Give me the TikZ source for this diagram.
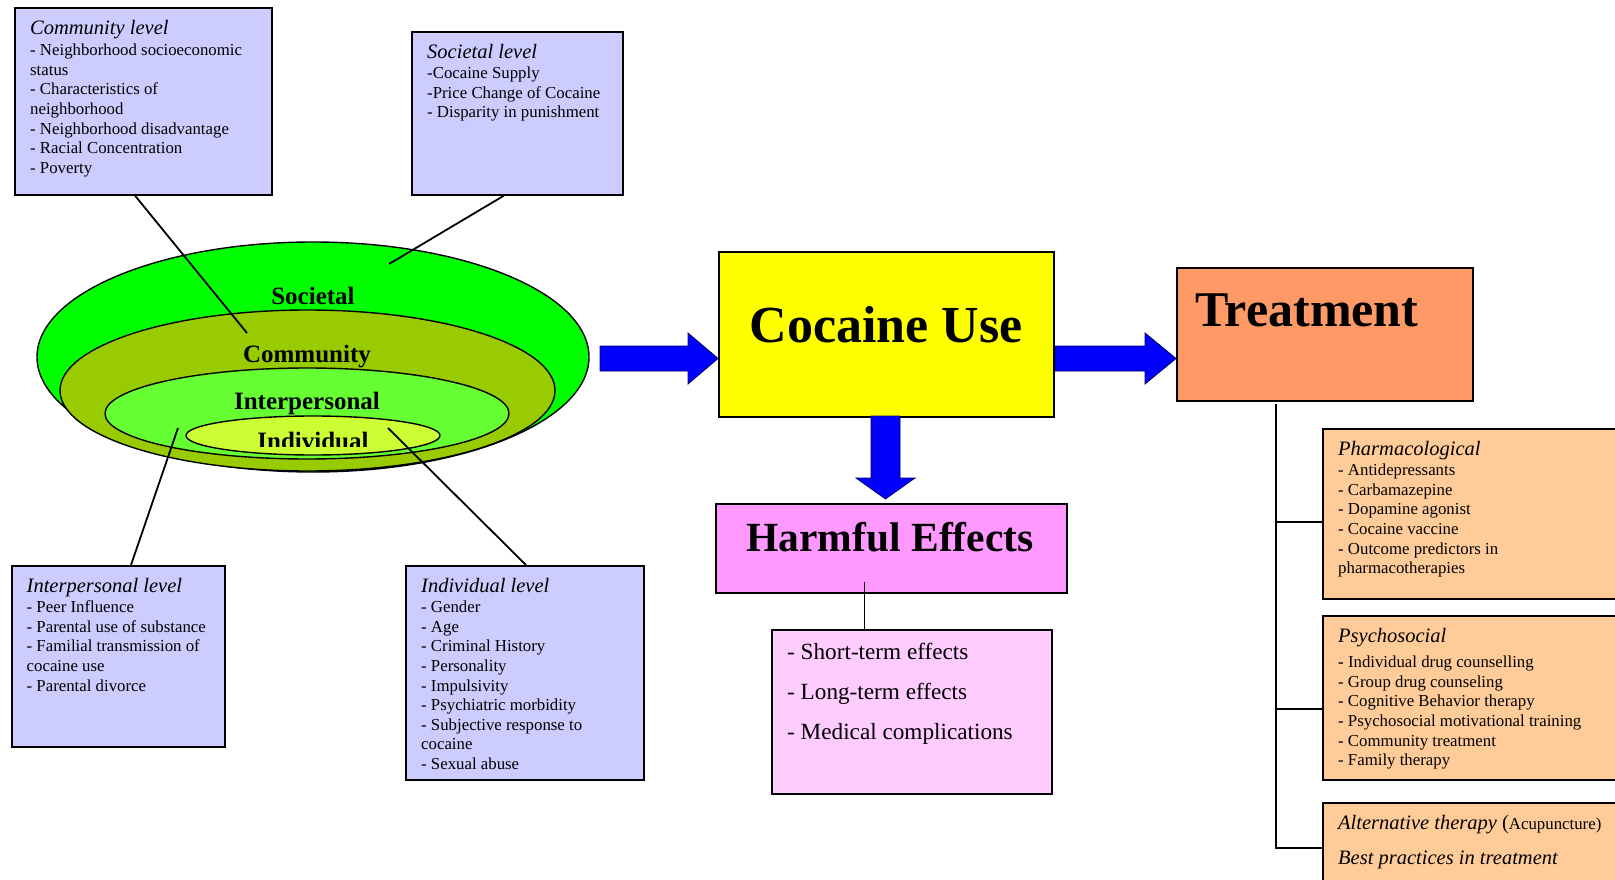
\documentclass[tikz,border=0pt]{standalone}
\usepackage{fontspec}
\setmainfont{Liberation Serif}
\usetikzlibrary{shapes.geometric}
\definecolor{lav}{HTML}{CCCCFF}
\definecolor{socg}{HTML}{00FF00}
\definecolor{comg}{HTML}{99CC00}
\definecolor{intg}{HTML}{66FF33}
\definecolor{indg}{HTML}{CCFF33}
\definecolor{cocc}{HTML}{FFFF00}
\definecolor{treatc}{HTML}{FF9966}
\definecolor{harmc}{HTML}{FF99FF}
\definecolor{shortc}{HTML}{FFCCFF}
\definecolor{therc}{HTML}{FFCC99}
\definecolor{arrc}{HTML}{0000FF}
\newcommand{\fl}{\rule{0pt}{14pt}}
\newcommand{\flbig}{\rule{0pt}{20pt}}
\tikzset{
  boxbase/.style={draw, line width=1.6pt, anchor=north west, inner sep=0pt},
  lvlbox/.style={boxbase, fill=lav},
  thbox/.style={boxbase, fill=therc},
  ell/.style={ellipse, draw, line width=1.4pt, inner sep=0pt},
  ttl/.style={anchor=base west, inner sep=0pt, font=\fontsize{20.5}{22}\selectfont\itshape},
  body/.style={anchor=north west, inner sep=0pt, align=left, font=\fontsize{16.8}{19.6}\selectfont},
  ringlbl/.style={anchor=base, inner sep=0pt, font=\fontsize{25}{27}\selectfont\bfseries},
  biglbl/.style={inner sep=0pt, font=\bfseries},
  conn/.style={line width=1.8pt},
  tree/.style={line width=1.4pt},
  blockarrow/.style={fill=arrc, draw=black!60!blue, line width=0.8pt, line join=miter},
}
\begin{document}
\begin{tikzpicture}[x=1pt,y=-1pt]
\useasboundingbox (0,0) rectangle (1615,880);
\clip (0,0) rectangle (1615,880);

% ---- nested ellipses
\node[ell, fill=socg, minimum width=552pt, minimum height=230pt] (esoc) at (313,357) {};
\node[ell, fill=comg, minimum width=495pt, minimum height=161pt] (ecom) at (307.5,390.5) {};
\node[ell, fill=intg, minimum width=404pt, minimum height=91pt] (eint) at (307,413.5) {};
\node[ell, fill=indg, minimum width=254pt, minimum height=39pt] (eind) at (313,435.5) {};
\node[ringlbl] (lsoc) at (313,304) {Societal};
\node[ringlbl] (lcom) at (307,362) {Community};
\node[ringlbl] (lint) at (307,409) {Interpersonal};
\begin{scope}
  \clip (0,0) rectangle (1615,446);
  \node[ringlbl] (lind) at (313,449) {Individual};
\end{scope}

% ---- level boxes
\node[lvlbox, minimum width=257pt, minimum height=187pt] (comm) at (14,7) {};
\node[ttl] (commT) at (30,34.5) {Community level};
\node[body] (commB) at (30,41.5) {\fl- Neighborhood socioeconomic\\status\\- Characteristics of\\neighborhood\\- Neighborhood disadvantage\\- Racial Concentration\\- Poverty};

\node[lvlbox, minimum width=211pt, minimum height=163pt] (soc) at (411,31) {};
\node[ttl] (socT) at (427,58.5) {Societal level};
\node[body] (socB) at (427,64.5) {\fl-Cocaine Supply\\-Price Change of Cocaine\\- Disparity in punishment};

\node[lvlbox, minimum width=213pt, minimum height=181pt] (inter) at (11,565) {};
\node[ttl] (interT) at (26.5,592.5) {Interpersonal level};
\node[body] (interB) at (26.5,598.5) {\fl- Peer Influence\\- Parental use of substance\\- Familial transmission of\\cocaine use\\- Parental divorce};

\node[lvlbox, minimum width=238pt, minimum height=214pt] (indiv) at (405,565) {};
\node[ttl] (indivT) at (421,592.5) {Individual level};
\node[body] (indivB) at (421,598.5) {\fl- Gender\\- Age\\- Criminal History\\- Personality\\- Impulsivity\\- Psychiatric morbidity\\- Subjective response to\\cocaine\\- Sexual abuse};

% ---- connectors from boxes to rings
\coordinate (pcom) at (247,333);
\coordinate (psoc) at (389,264);
\coordinate (pint) at (178,428);
\coordinate (pind) at (388,428);
\draw[conn] ([xshift=121pt]comm.south west) -- (pcom);
\draw[conn] ([xshift=93pt]soc.south west) -- (psoc);
\draw[conn] ([xshift=120pt]inter.north west) -- (pint);
\draw[conn] ([xshift=121pt]indiv.north west) -- (pind);

% ---- central boxes
\node[boxbase, fill=cocc, minimum width=335pt, minimum height=165pt] (coc) at (718,251) {};
\node[biglbl, anchor=base, font=\fontsize{52}{56}\selectfont\bfseries] (cocT) at (886,342) {Cocaine Use};

\node[boxbase, fill=treatc, minimum width=296pt, minimum height=133pt] (treat) at (1176,267) {};
\node[biglbl, anchor=base west, font=\fontsize{50}{54}\selectfont\bfseries] (treatT) at (1195,326) {Treatment};

\node[boxbase, fill=harmc, minimum width=351pt, minimum height=89pt] (harm) at (715,503) {};
\node[biglbl, anchor=base, font=\fontsize{41.5}{45}\selectfont\bfseries] (harmT) at (890,551) {Harmful Effects};

\node[boxbase, fill=shortc, minimum width=280pt, minimum height=164pt] (short) at (771,629) {};
\node[body, font=\fontsize{23.2}{40}\selectfont] (shortB) at (787,639.5) {\flbig- Short-term effects\\- Long-term effects\\- Medical complications};

\coordinate (hstart) at (864.5,582);
\draw[line width=1.1pt] (hstart) -- (hstart |- short.north);

% ---- block arrows
\draw[blockarrow] (600,346) -- (688,346) -- (688,333) -- (coc.west |- 0,358.5) -- (688,384) -- (688,371) -- (600,371) -- cycle;
\draw[blockarrow] (1055,346) -- (1145,346) -- (1145,333) -- (treat.west |- 0,358.5) -- (1145,384) -- (1145,371) -- (1055,371) -- cycle;
\draw[blockarrow] (871,416) -- (900,416) -- (900,478) -- (915,478) -- (885.5,499) -- (856,478) -- (871,478) -- cycle;

% ---- treatment boxes
\node[thbox, minimum width=303pt, minimum height=170pt] (pharm) at (1322,428) {};
\node[ttl] (pharmT) at (1338,455.5) {Pharmacological};
\node[body] (pharmB) at (1338,461.5) {\fl- Antidepressants\\- Carbamazepine\\- Dopamine agonist\\- Cocaine vaccine\\- Outcome predictors in\\pharmacotherapies};

\node[thbox, minimum width=303pt, minimum height=164pt] (psych) at (1322,615) {};
\node[ttl] (psychT) at (1338,642.5) {Psychosocial};
\node[body] (psychB) at (1338,653.5) {\fl\textbf{-} Individual drug counselling\\- Group drug counseling\\- Cognitive Behavior therapy\\- Psychosocial motivational training\\- Community treatment\\- Family therapy};

\node[thbox, minimum width=303pt, minimum height=100pt] (alt) at (1322,802) {};
\node[ttl] (altT) at (1338,829) {Alternative therapy {\upshape(\fontsize{16.8}{19.6}\selectfont Acupuncture)}};
\node[ttl] (altB) at (1338,864) {Best practices in treatment};

% ---- treatment tree
\coordinate (tTop) at (1276,404);
\draw[tree] (tTop) -- (tTop |- 0,848) -- (alt.west |- 0,848);
\draw[tree] (tTop |- 0,522) -- (pharm.west |- 0,522);
\draw[tree] (tTop |- 0,709) -- (psych.west |- 0,709);
\end{tikzpicture}
\end{document}
